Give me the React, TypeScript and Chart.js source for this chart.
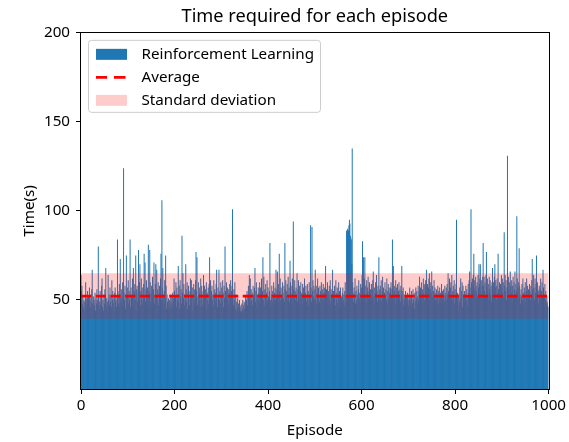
import { useEffect, useRef } from "react";
import { Chart, registerables } from "chart.js";

Chart.register(...registerables);

const TITLE = "Time required for each episode";
const X_LABEL = "Episode";
const Y_LABEL = "Time(s)";
const SERIES_LABEL = "Reinforcement Learning";
const AVG_LABEL = "Average";
const STD_LABEL = "Standard deviation";

const X_TICKS = [0, 200, 400, 600, 800, 1000];
const Y_TICKS = [50, 100, 150, 200];
const X_MIN = 0;
const X_MAX = 1000;
const Y_MIN = 0;
const Y_MAX = 200;

const AVERAGE = 52.2;
const STD_DEV = 12.8;

// time (s) per episode, episodes 0-199
const TIMES_A = [
  64,55,58,48,52,46,50,44,49,53,60,47,51,45,55,49,52,47,57,50,
  46,53,49,56,67,48,45,52,50,47,54,44,51,48,56,50,47,80,52,45,
  49,55,47,51,58,62,46,50,44,53,48,56,52,68,47,51,45,49,64,50,
  53,47,57,49,52,46,61,50,55,48,51,44,54,57,49,52,46,50,84,55,
  48,53,59,46,73,51,49,56,52,60,47,124,54,50,58,45,53,75,49,57,
  52,61,48,55,50,84,46,57,53,49,62,51,68,47,55,59,50,75,44,56,
  58,49,54,78,51,60,70,47,55,62,50,57,48,53,59,76,52,71,49,56,
  61,50,57,47,81,55,52,78,60,49,54,58,46,63,51,56,71,48,53,59,
  70,52,67,49,56,60,47,54,58,51,62,76,50,106,57,68,53,48,55,61,
  50,75,58,45,53,49,46,51,44,50,47,53,45,49,52,46,54,48,51,62,
];
// episodes 200-399
const TIMES_B = [
  55,48,52,60,46,57,50,53,69,49,58,45,61,52,56,48,86,54,65,51,
  59,47,53,50,70,56,49,60,45,54,58,51,47,55,62,48,61,52,57,44,
  53,59,48,56,50,61,77,55,74,47,52,60,49,57,54,46,62,50,58,53,
  47,55,64,51,58,49,56,53,60,45,54,50,57,48,59,74,52,61,46,55,
  58,50,53,47,61,52,56,49,54,59,67,51,46,57,53,67,50,55,48,60,
  52,57,49,61,54,46,58,51,80,55,48,60,53,57,50,56,47,54,59,52,
  61,49,55,58,101,52,47,56,50,60,45,53,44,49,46,51,43,48,45,50,
  46,44,47,43,48,45,50,44,47,49,45,48,52,46,50,55,47,53,58,51,
  64,52,62,49,56,50,54,47,58,53,51,57,68,49,55,60,46,53,50,57,
  54,49,60,52,57,48,62,51,55,74,50,63,47,56,52,59,49,54,61,50,
];
// episodes 400-599
const TIMES_C = [
  57,52,48,55,82,50,46,53,58,49,55,51,60,47,54,57,50,67,53,56,
  66,52,59,49,76,55,62,50,57,53,48,60,54,51,58,49,82,56,61,52,
  55,59,50,63,53,57,49,72,60,54,51,58,62,48,94,56,52,61,55,50,
  57,53,65,49,56,61,52,58,47,55,60,51,54,48,59,53,57,50,62,46,
  54,58,49,52,59,50,55,47,60,53,51,92,57,49,91,55,61,52,58,50,
  56,67,51,58,48,54,62,50,57,53,49,58,55,47,60,52,56,50,59,54,
  51,57,54,69,49,56,52,60,47,55,53,58,50,61,48,56,53,50,67,52,
  55,49,58,52,47,61,54,50,57,48,53,60,46,55,51,57,45,52,49,54,
  57,50,53,47,55,60,49,52,89,88,90,87,89,92,95,93,86,85,84,70,
  135,60,54,49,57,52,62,48,55,50,58,53,47,56,61,51,54,49,59,52,
];
// episodes 600-799
const TIMES_D = [
  57,64,83,55,74,50,62,74,52,58,49,61,54,57,63,51,55,60,48,56,
  53,59,50,56,61,66,52,48,57,54,60,51,64,55,49,58,53,74,50,56,
  58,52,61,49,55,63,51,57,47,54,60,53,56,50,62,48,55,59,51,57,
  54,49,57,60,52,56,84,53,69,50,58,55,48,61,53,57,50,59,52,55,
  60,51,56,49,58,53,69,55,50,57,47,53,51,49,55,46,52,48,54,50,
  47,53,50,57,49,52,46,55,51,48,56,50,53,45,54,49,57,51,55,48,
  52,58,50,55,63,49,57,53,60,51,56,48,62,54,59,50,58,61,55,67,
  53,59,51,57,62,65,50,56,60,54,66,52,58,49,55,61,53,57,50,54,
  56,50,53,58,48,55,51,57,49,54,52,59,47,55,50,56,53,49,58,52,
  54,57,50,59,53,65,55,51,62,49,57,60,52,64,50,55,58,53,61,48,
];
// episodes 800-999
const TIMES_E = [
  56,52,59,95,50,54,47,53,44,49,57,51,62,48,55,60,46,58,53,49,
  55,48,53,58,50,56,52,47,59,54,61,66,57,53,101,60,55,62,58,64,
  76,56,61,53,63,58,55,60,52,64,57,70,59,62,70,55,61,53,58,63,
  82,58,63,55,60,52,64,77,57,62,54,59,50,63,56,61,53,58,49,60,
  68,55,60,52,63,70,57,61,50,58,62,54,76,56,48,60,53,59,51,64,
  57,62,54,60,52,88,58,64,55,61,50,57,131,53,63,56,60,52,66,58,
  54,61,49,58,63,52,60,56,66,53,59,55,97,62,57,51,60,79,58,53,
  48,56,52,59,50,62,54,47,57,53,60,49,55,62,51,58,46,56,52,59,
  55,50,58,53,61,73,56,52,64,57,50,62,54,59,75,53,60,56,48,55,
  58,51,56,62,49,55,60,52,67,57,46,53,59,50,55,48,52,49,47,46,
];

const TIMES = [...TIMES_A, ...TIMES_B, ...TIMES_C, ...TIMES_D, ...TIMES_E];
const EPISODES = TIMES.map((_, i) => i);

const BLUE = "#1f77b4";
const RED = "#ff0000";
const BAND = "rgba(255,0,0,0.2)";
const FONT = "'Noto Sans', 'DejaVu Sans', sans-serif";
const TEXT_SIZE = 15.2;
const TITLE_SIZE = 18.2;

const framePlugin = {
  id: "frame",
  afterDatasetsDraw(chart: any) {
    const { ctx, chartArea } = chart;
    ctx.save();
    ctx.strokeStyle = "#000";
    ctx.lineWidth = 1;
    ctx.strokeRect(
      Math.round(chartArea.left) - 0.5,
      Math.round(chartArea.top) - 0.5,
      Math.round(chartArea.right - chartArea.left) + 1,
      Math.round(chartArea.bottom - chartArea.top) + 1
    );
    ctx.restore();
  },
};

const legendPlugin = {
  id: "customLegend",
  afterDraw(chart: any) {
    const { ctx, chartArea } = chart;
    const x0 = chartArea.left + 7.5;
    const y0 = chartArea.top + 7.5;
    const w = 232;
    const h = 72;
    ctx.save();
    ctx.beginPath();
    ctx.roundRect(x0, y0, w, h, 3);
    ctx.fillStyle = "rgba(255,255,255,0.8)";
    ctx.fill();
    ctx.strokeStyle = "#cccccc";
    ctx.lineWidth = 1;
    ctx.stroke();

    const hx = x0 + 7.5;
    const tx = x0 + 53;
    const rows = [y0 + 14, y0 + 37, y0 + 60];
    ctx.fillStyle = BLUE;
    ctx.fillRect(hx, rows[0] - 5.5, 31, 11);
    ctx.strokeStyle = RED;
    ctx.lineWidth = 2.78;
    ctx.beginPath();
    ctx.moveTo(hx, rows[1]);
    ctx.lineTo(hx + 11, rows[1]);
    ctx.moveTo(hx + 18, rows[1]);
    ctx.lineTo(hx + 29.5, rows[1]);
    ctx.stroke();
    ctx.fillStyle = BAND;
    ctx.fillRect(hx, rows[2] - 5.5, 31, 11);

    ctx.fillStyle = "#000";
    ctx.font = `${TEXT_SIZE}px ${FONT}`;
    ctx.textBaseline = "middle";
    ctx.textAlign = "left";
    ctx.fillText(SERIES_LABEL, tx, rows[0]);
    ctx.fillText(AVG_LABEL, tx, rows[1]);
    ctx.fillText(STD_LABEL, tx, rows[2]);
    ctx.restore();
  },
};

export default function App() {
  const canvasRef = useRef<HTMLCanvasElement | null>(null);

  useEffect(() => {
    const canvas = canvasRef.current;
    if (!canvas) return;
    const ctx = canvas.getContext("2d");
    if (!ctx) return;

    const barData = TIMES.map((y, i) => ({ x: EPISODES[i], y }));
    const avgData = [
      { x: X_MIN, y: AVERAGE },
      { x: X_MAX, y: AVERAGE },
    ];
    const lowData = [
      { x: X_MIN, y: AVERAGE - STD_DEV },
      { x: X_MAX, y: AVERAGE - STD_DEV },
    ];
    const highData = [
      { x: X_MIN, y: AVERAGE + STD_DEV },
      { x: X_MAX, y: AVERAGE + STD_DEV },
    ];

    const chart = new Chart(ctx, {
      type: "bar",
      data: {
        datasets: [
          {
            type: "line",
            label: AVG_LABEL,
            data: avgData,
            borderColor: RED,
            borderWidth: 2.78,
            borderDash: [10.3, 4.4],
            pointRadius: 0,
            fill: false,
            order: 1,
          } as any,
          {
            type: "line",
            label: STD_LABEL + " (lower)",
            data: lowData,
            borderColor: "rgba(0,0,0,0)",
            borderWidth: 1,
            pointRadius: 0,
            fill: false,
            order: 2,
          } as any,
          {
            type: "line",
            label: STD_LABEL,
            data: highData,
            borderColor: "rgba(0,0,0,0)",
            backgroundColor: BAND,
            borderWidth: 1,
            pointRadius: 0,
            fill: "-1",
            order: 2,
          } as any,
          {
            type: "bar",
            label: SERIES_LABEL,
            data: barData,
            backgroundColor: BLUE,
            borderWidth: 0,
            barThickness: 1,
            inflateAmount: 0,
            order: 3,
          } as any,
        ],
      },
      options: {
        responsive: false,
        animation: false,
        devicePixelRatio: 1,
        events: [],
        layout: { padding: { left: 0, right: 20, top: 0, bottom: 0 } },
        plugins: {
          legend: { display: false },
          tooltip: { enabled: false },
          title: {
            display: true,
            text: TITLE,
            fullSize: false,
            color: "#000",
            font: { family: FONT, size: TITLE_SIZE, weight: "normal" },
            padding: { top: 6, bottom: 5 },
          },
        },
        scales: {
          x: {
            type: "linear",
            min: X_MIN,
            max: X_MAX,
            offset: false,
            afterBuildTicks: (axis: any) => {
              axis.ticks = X_TICKS.map((v) => ({ value: v }));
            },
            afterFit: (scale: any) => {
              scale.height = 53;
            },
            grid: {
              display: true,
              offset: false,
              drawOnChartArea: false,
              drawTicks: true,
              tickLength: 5,
              color: "#000",
            },
            border: { display: false },
            ticks: {
              color: "#000",
              font: { family: FONT, size: TEXT_SIZE },
              padding: 3,
              maxRotation: 0,
              autoSkip: false,
              callback: (v: any) => String(v),
            },
            title: {
              display: true,
              text: X_LABEL,
              color: "#000",
              font: { family: FONT, size: TEXT_SIZE },
              padding: { top: 0, bottom: 2 },
            },
          },
          y: {
            min: Y_MIN,
            max: Y_MAX,
            afterBuildTicks: (axis: any) => {
              axis.ticks = Y_TICKS.map((v) => ({ value: v }));
            },
            afterFit: (scale: any) => {
              scale.width = 81;
            },
            grid: {
              display: true,
              drawOnChartArea: false,
              drawTicks: true,
              tickLength: 5,
              color: "#000",
            },
            border: { display: false },
            ticks: {
              color: "#000",
              font: { family: FONT, size: TEXT_SIZE },
              padding: 6,
              callback: (v: any) => String(v),
            },
            title: {
              display: true,
              text: Y_LABEL,
              color: "#000",
              font: { family: FONT, size: TEXT_SIZE },
              padding: { top: 21, bottom: 0 },
            },
          },
        },
      } as any,
      plugins: [framePlugin, legendPlugin],
    });

    return () => chart.destroy();
  }, []);

  return (
    <div style={{ position: "absolute", left: 0, top: 0, width: 569, height: 442, background: "#fff" }}>
      <canvas ref={canvasRef} width={569} height={442} style={{ display: "block" }} />
    </div>
  );
}
